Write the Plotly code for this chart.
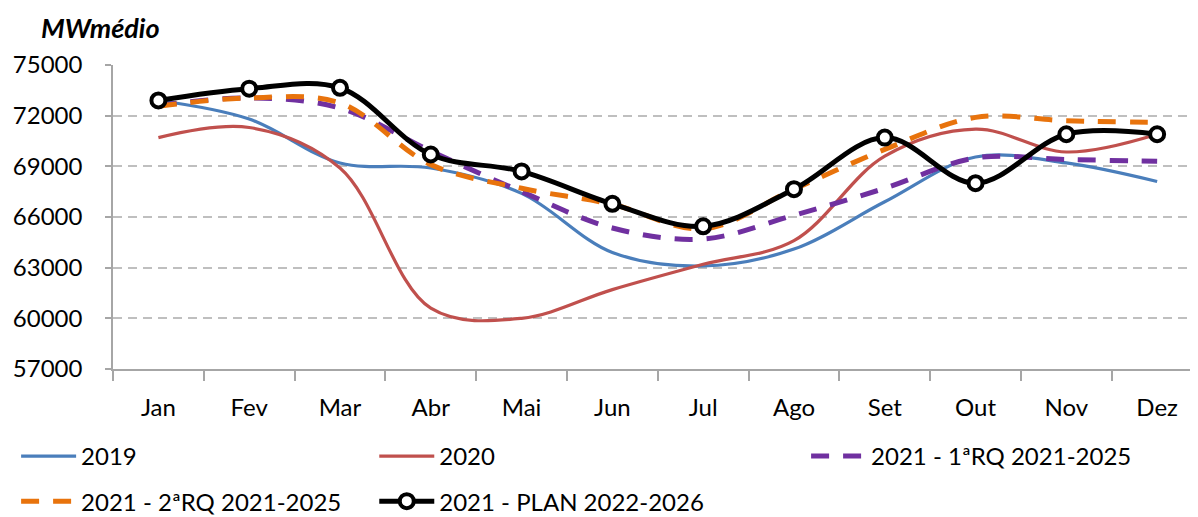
import plotly.graph_objects as go

months = ["Jan", "Fev", "Mar", "Abr", "Mai", "Jun", "Jul", "Ago", "Set", "Out", "Nov", "Dez"]

y2019 = [72900, 71800, 69200, 68900, 67400, 63900, 63100, 64100, 66900, 69550, 69200, 68100]
y2020 = [70700, 71300, 68900, 60600, 60000, 61700, 63200, 64600, 69600, 71200, 69850, 70900]
y_rq1 = [72600, 73050, 72450, 69900, 67500, 65350, 64700, 66100, 67700, 69500, 69400, 69300]
y_rq2 = [72550, 73050, 72750, 69100, 67700, 66750, 65300, 67650, 70000, 71900, 71700, 71600]
y_plan = [72900, 73600, 73650, 69700, 68700, 66780, 65450, 67650, 70700, 68000, 70900, 70900]

names = ["2019", "2020", "2021 - 1ªRQ 2021-2025", "2021 - 2ªRQ 2021-2025", "2021 - PLAN 2022-2026"]

FONT = "Lato"
fig = go.Figure()

fig.add_trace(go.Scatter(x=months, y=y2019, name=names[0], mode="lines",
                         line=dict(color="#4A7EBB", width=3.2, shape="spline", smoothing=1),
                         legend="legend"))
fig.add_trace(go.Scatter(x=months, y=y2020, name=names[1], mode="lines",
                         line=dict(color="#C0504D", width=3.2, shape="spline", smoothing=1),
                         legend="legend2"))
fig.add_trace(go.Scatter(x=months, y=y_rq1, name=names[2], mode="lines",
                         line=dict(color="#7030A0", width=5, shape="spline", smoothing=1, dash="18px,14px"),
                         legend="legend3"))
fig.add_trace(go.Scatter(x=months, y=y_rq2, name=names[3], mode="lines",
                         line=dict(color="#E8730C", width=5, shape="spline", smoothing=1, dash="18px,14px"),
                         legend="legend4"))
fig.add_trace(go.Scatter(x=months, y=y_plan, name=names[4], mode="lines+markers",
                         line=dict(color="#000000", width=5, shape="spline", smoothing=1),
                         marker=dict(symbol="circle", size=14, color="white",
                                     line=dict(color="#000000", width=4)),
                         legend="legend5"))

common = dict(orientation="v", font=dict(family=FONT, size=24, color="#000000"),
              bgcolor="rgba(0,0,0,0)", xanchor="left", itemwidth=55)

ROW1_Y = -0.2138
ROW2_Y = -0.510
COL_X = [-0.0893, 0.2408, 0.6388]

fig.update_layout(
    width=1198, height=540,
    margin=dict(l=102, r=8, t=57, b=179),
    paper_bgcolor="white", plot_bgcolor="white",
    font=dict(family=FONT, size=24, color="#000000"),
    showlegend=True,
    legend=dict(**common, x=COL_X[0], y=ROW1_Y, yanchor="top"),
    legend2=dict(**common, x=COL_X[1], y=ROW1_Y, yanchor="top"),
    legend3=dict(**common, x=COL_X[2], y=ROW1_Y, yanchor="top"),
    legend4=dict(**common, x=COL_X[0], y=ROW2_Y, yanchor="bottom"),
    legend5=dict(**common, x=COL_X[1], y=ROW2_Y, yanchor="bottom"),
    xaxis=dict(
        type="category", range=[-0.5, 11.45], automargin=False,
        showline=True, linecolor="#A6A6A6", linewidth=1.5,
        ticks="outside", tickson="boundaries", ticklen=10, tickcolor="#A6A6A6", tickwidth=1.5,
        ticklabelstandoff=16, showgrid=False,
        tickfont=dict(family=FONT, size=24, color="#000000"),
    ),
    yaxis=dict(
        range=[57000, 75000], dtick=3000, tick0=57000, automargin=False,
        showline=True, linecolor="#A6A6A6", linewidth=1.5,
        ticks="outside", ticklen=6, tickcolor="#A6A6A6", tickwidth=1.5,
        showgrid=True, gridcolor="#BFBFBF", gridwidth=2, griddash="9px,6px",
        zeroline=False, ticklabelstandoff=18,
        tickfont=dict(family=FONT, size=24, color="#000000"),
        tickformat="d",
    ),
    annotations=[dict(text="<b><i>MWmédio</i></b>", xref="paper", yref="paper",
                      x=(36 - 110) / 1088, y=1.125, xanchor="left", yanchor="middle", showarrow=False,
                      font=dict(family=FONT, size=27, color="#000000"))],
)

fig.write_html("out.html")
